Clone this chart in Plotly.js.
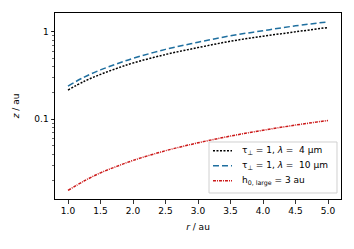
<!DOCTYPE html>
<html>
<head>
<meta charset="utf-8">
<script src="https://cdn.plot.ly/plotly-3.0.1.min.js"></script>
<style>html,body{margin:0;padding:0;background:#fff;}#plot{width:354px;height:249px;}</style>
</head>
<body>
<div id="plot"></div>
<script>
const r = [1.0, 1.25, 1.5, 1.75, 2.0, 2.5, 3.0, 3.5, 4.0, 4.5, 5.0];
const z_tau_4um = [0.216, 0.272, 0.326, 0.382, 0.44, 0.55, 0.66, 0.78, 0.89, 1.0, 1.12];
const z_tau_10um = [0.24, 0.304, 0.367, 0.43, 0.497, 0.63, 0.76, 0.90, 1.03, 1.17, 1.30];
const z_h0_large = [0.0154, 0.0198, 0.0245, 0.0290, 0.0339, 0.0438, 0.0539, 0.0644, 0.075, 0.086, 0.097];
const names = ['τ<sub>⊥</sub> = 1, <i>λ</i> =  4 μm', 'τ<sub>⊥</sub> = 1, <i>λ</i> =  10 μm', 'h<sub>0, large</sub> = 3 au'];
const xTicks = [1.0, 1.5, 2.0, 2.5, 3.0, 3.5, 4.0, 4.5, 5.0];
const xTickText = ['1.0', '1.5', '2.0', '2.5', '3.0', '3.5', '4.0', '4.5', '5.0'];
const yTicks = [0.1, 1];
const yTickText = ['0.1', '1'];

const colors = ['#000000', '#1f6f9f', '#cc1a1a'];
const dashes = ['2px,1.5px', '6px,3px', '3px,1px,1px,1px'];

const font = {family: 'DejaVu Sans', size: 9, color: '#000'};
const series = [z_tau_4um, z_tau_10um, z_h0_large];
const traces = series.map((ys, i) => ({
  x: r, y: ys, name: names[i], mode: 'lines', showlegend: false,
  line: {color: colors[i], dash: dashes[i], width: 1.5, shape: 'spline'}
}));

// custom legend (matplotlib style) in paper coordinates
const legRowsY = [0.2597, 0.1790, 0.0984];
const shapes = [{
  type: 'rect', xref: 'paper', yref: 'paper', x0: 0.5385, x1: 0.986, y0: 0.0323, y1: 0.3065,
  line: {color: '#d0d0d0', width: 1}, fillcolor: 'rgba(255,255,255,0.8)', layer: 'above'
}];
const annotations = [];
names.forEach((n, i) => {
  shapes.push({type: 'line', xref: 'paper', yref: 'paper', x0: 0.5524, x1: 0.6189, y0: legRowsY[i], y1: legRowsY[i],
    line: {color: colors[i], dash: dashes[i], width: 1.5}, layer: 'above'});
  annotations.push({xref: 'paper', yref: 'paper', x: 0.6469, y: legRowsY[i], xanchor: 'left', yanchor: 'middle',
    text: n, showarrow: false, font: font});
});

const layout = {
  width: 354, height: 249,
  margin: {l: 55, r: 13, t: 13, b: 50},
  paper_bgcolor: '#fff', plot_bgcolor: '#fff',
  font: font,
  showlegend: false,
  shapes: shapes,
  annotations: annotations,
  xaxis: {
    range: [0.8, 5.2], tickvals: xTicks, ticktext: xTickText,
    ticks: 'outside', ticklen: 3.5, tickwidth: 0.8, tickcolor: '#000',
    showline: true, linecolor: '#000', linewidth: 1, mirror: true,
    showgrid: false, zeroline: false,
    title: {text: '<i>r</i> / au', font: font, standoff: 8}
  },
  yaxis: {
    type: 'log', range: [Math.log10(0.0123), Math.log10(1.64)],
    tickvals: yTicks, ticktext: yTickText,
    ticks: 'outside', ticklen: 3.5, tickwidth: 0.8, tickcolor: '#000',
    minor: {ticks: 'outside', ticklen: 2, tickwidth: 0.6, tickcolor: '#000', dtick: 'D1', showgrid: false},
    showline: true, linecolor: '#000', linewidth: 1, mirror: true,
    showgrid: false, zeroline: false,
    title: {text: '<i>z</i> / au', font: font, standoff: 13}
  }
};
Plotly.newPlot('plot', traces, layout, {displayModeBar: false, staticPlot: true});
</script>
</body>
</html>
